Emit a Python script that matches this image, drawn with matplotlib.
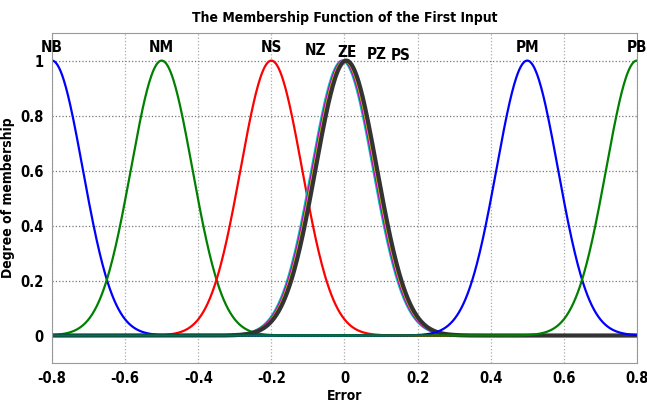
import matplotlib
matplotlib.use("Agg")
import matplotlib.pyplot as plt
import numpy as np

plt.rcParams['font.family'] = ['DejaVu Sans']
plt.rcParams['font.weight'] = 'bold'
plt.rcParams['font.stretch'] = 'condensed'

# membership functions: label, centre, sigma, colour, line width
etiquetas = ['NB', 'NM', 'NS', 'NZ', 'ZE', 'PZ', 'PS', 'PM', 'PB']
centros = [-0.8, -0.5, -0.2, -0.006, -0.003, 0.0, 0.005, 0.5, 0.8]
sigmas = [0.084, 0.084, 0.084, 0.084, 0.084, 0.084, 0.084, 0.084, 0.084]
cores = ['blue', 'green', 'red', 'c', 'm', 'y', '#333333', 'blue', 'green']
larguras = [1.6, 1.6, 1.6, 1.6, 1.6, 1.6, 3.0, 1.6, 1.6]

# label text positions
rotulo_x = [-0.8, -0.5, -0.2, -0.08, 0.008, 0.088, 0.155, 0.5, 0.8]
rotulo_y = [1.02, 1.02, 1.02, 1.008, 1.002, 0.995, 0.992, 1.02, 1.02]

x_ticks = [-0.8, -0.6, -0.4, -0.2, 0, 0.2, 0.4, 0.6, 0.8]
x_labels = ['-0.8', '-0.6', '-0.4', '-0.2', '0', '0.2', '0.4', '0.6', '0.8']
y_ticks = [0, 0.2, 0.4, 0.6, 0.8, 1]
y_labels = ['0', '0.2', '0.4', '0.6', '0.8', '1']


def main():
    fig = plt.figure(figsize=(6.47, 4.04), dpi=100)
    ax = fig.add_axes([0.0804, 0.1015, 0.904, 0.8165])

    x = np.linspace(-0.8, 0.8, 801)
    for c, s, cor, lw in zip(centros, sigmas, cores, larguras):
        y = np.exp(-(x - c) ** 2 / (2 * s ** 2))
        ax.plot(x, y, color=cor, linewidth=lw)

    for txt, tx, ty in zip(etiquetas, rotulo_x, rotulo_y):
        ax.text(tx, ty, txt, ha='center', va='bottom', fontsize=11,
                fontweight='bold', clip_on=False)

    ax.set_xlim(-0.8, 0.8)
    ax.set_ylim(-0.1, 1.1)
    ax.set_xticks(x_ticks)
    ax.set_xticklabels(x_labels)
    ax.set_yticks(y_ticks)
    ax.set_yticklabels(y_labels)
    ax.tick_params(length=0, labelsize=10.5, pad=6)
    for lab in ax.get_xticklabels() + ax.get_yticklabels():
        lab.set_fontweight('bold')

    ax.grid(True, axis='x', linestyle=':', color='#aaaaaa', linewidth=0.9)
    ax.grid(True, axis='y', linestyle=':', color='#777777', linewidth=0.9)
    for sp in ax.spines.values():
        sp.set_color('#999999')

    ax.set_xlabel('Error', fontsize=10, fontweight='bold', labelpad=2)
    ax.set_ylabel('Degree of membership', fontsize=10, fontweight='bold', labelpad=4)
    ax.set_title('The Membership Function of the First Input', fontsize=10,
                 fontweight='bold', pad=8)

    fig.savefig('out.png', dpi=100)


if __name__ == "__main__":
    main()
